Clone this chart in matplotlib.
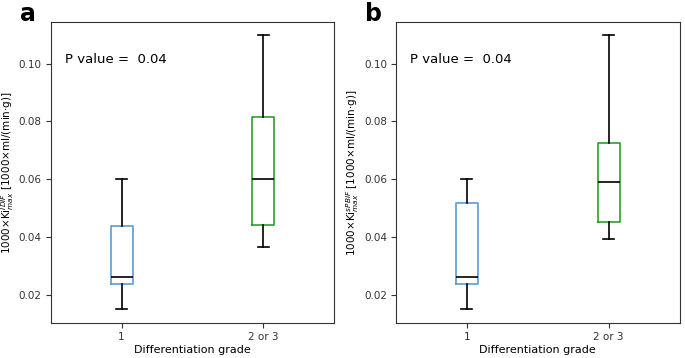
import matplotlib.pyplot as plt

groups = ["1", "2 or 3"]

# box stats: low whisker, q1, median, q3, high whisker
idif_low = [0.0152, 0.0367]
idif_q1 = [0.0239, 0.0442]
idif_med = [0.0262, 0.0600]
idif_q3 = [0.0440, 0.0816]
idif_high = [0.0600, 0.1100]

spbif_low = [0.0152, 0.0393]
spbif_q1 = [0.0239, 0.0453]
spbif_med = [0.0264, 0.0592]
spbif_q3 = [0.0518, 0.0724]
spbif_high = [0.0600, 0.1100]

p_values = [0.04, 0.04]
ylabels = [r"1000$\times$Ki$^{IDIF}_{max}$ [1000$\times$ml/(min$\cdot$g)]",
           r"1000$\times$Ki$^{sPBIF}_{max}$ [1000$\times$ml/(min$\cdot$g)]"]
panel_tags = ["a", "b"]
box_colors = ["#5b9bd5", "#2ca02c"]


def make_stats(low, q1, med, q3, high):
    stats = []
    for i in range(len(groups)):
        stats.append({"whislo": low[i], "q1": q1[i], "med": med[i],
                      "q3": q3[i], "whishi": high[i], "fliers": [],
                      "label": groups[i]})
    return stats


all_stats = [make_stats(idif_low, idif_q1, idif_med, idif_q3, idif_high),
             make_stats(spbif_low, spbif_q1, spbif_med, spbif_q3, spbif_high)]

fig = plt.figure(figsize=(6.85, 3.58), dpi=100)
lefts = [0.074, 0.578]

for k in range(2):
    ax = fig.add_axes([lefts[k], 0.098, 0.414, 0.841])
    bp = ax.bxp(all_stats[k], widths=0.155, patch_artist=False,
                medianprops=dict(color="black", linewidth=1.2),
                whiskerprops=dict(color="black", linewidth=1.2),
                capprops=dict(color="black", linewidth=1.2))
    for box, c in zip(bp["boxes"], box_colors):
        box.set_color(c)
        box.set_linewidth(1.2)
    ax.set_xlim(0.5, 2.5)
    ax.set_ylim(0.0104, 0.1144)
    ax.set_yticks([0.02, 0.04, 0.06, 0.08, 0.10])
    ax.set_yticklabels(["0.02", "0.04", "0.06", "0.08", "0.10"])
    ax.tick_params(labelsize=7.5, colors="#333333", labelcolor="#333333",
                   pad=3)
    ax.set_xlabel("Differentiation grade", fontsize=8, labelpad=2)
    ax.set_ylabel(ylabels[k], fontsize=7.5, labelpad=2)
    ax.text(0.05, 0.875, "P value =  {:.2f}".format(p_values[k]),
            transform=ax.transAxes, fontsize=9.5, va="center")
    for s in ax.spines.values():
        s.set_color("#333333")
    fig.text(lefts[k] - 0.045, 0.995, panel_tags[k], fontsize=17,
             fontweight="bold", va="top")

fig.savefig("out.png", dpi=100)
